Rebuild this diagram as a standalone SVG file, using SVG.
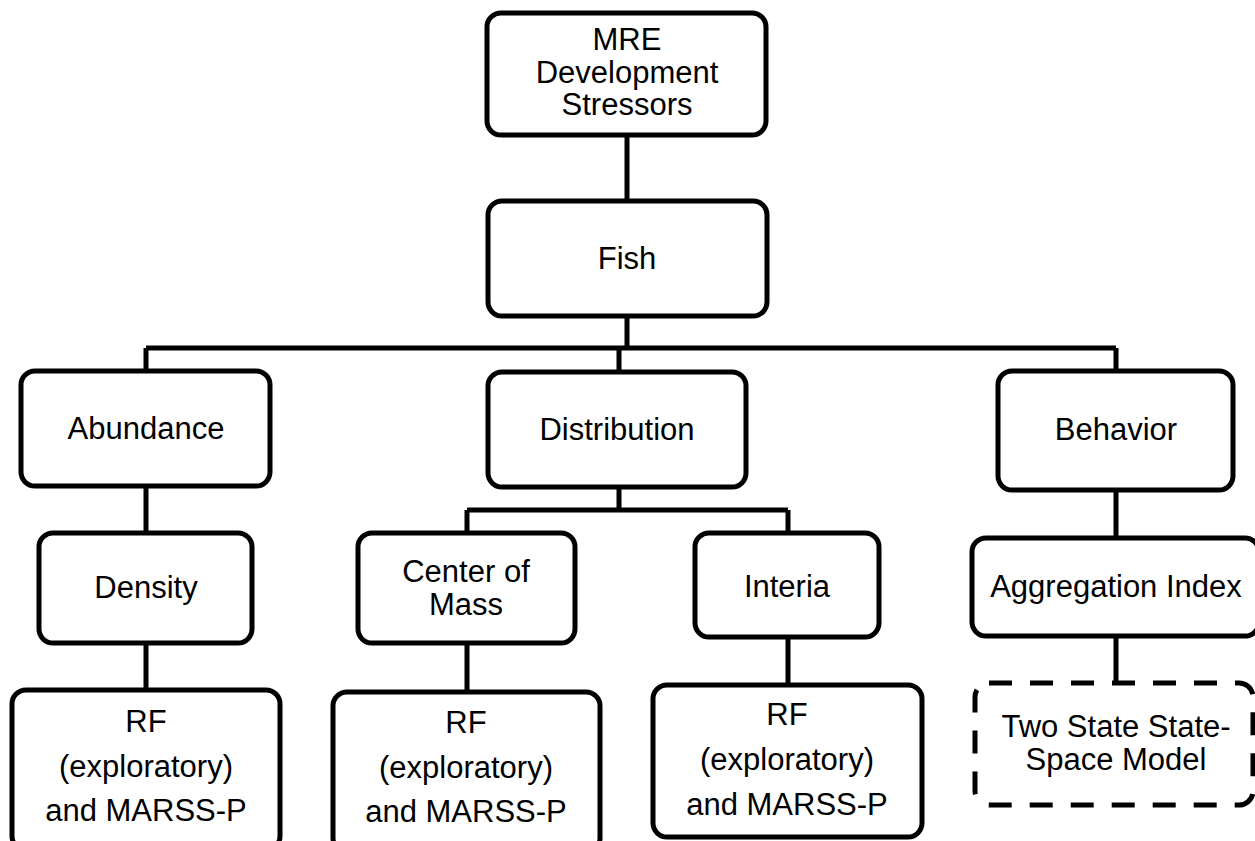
<svg xmlns="http://www.w3.org/2000/svg" width="1255" height="841" viewBox="0 0 1255 841">
<style>
.n{fill:#fff;stroke:#000;stroke-width:5}
.d{fill:#fff;stroke:#000;stroke-width:5;stroke-dasharray:23 18}
.c{fill:none;stroke:#000;stroke-width:5}
text{font-family:"Liberation Sans",Arial,sans-serif;font-size:31px;fill:#000;text-anchor:middle}
</style>
<rect width="1255" height="841" fill="#fff"/>
<g id="connectors">
<path class="c" d="M627 135V201M627 316V348M146 348H1116M146 348V371M619 348V372M1116 348V371"/>
<path class="c" d="M146 486V533M146 643V690"/>
<path class="c" d="M619 487V510M467 510H788M467 510V533M788 510V533M467 643V692M788 637V685"/>
<path class="c" d="M1116 490V538M1116 636V683"/>
</g>
<g id="mre"><rect class="n" x="487" y="13" width="279" height="122" rx="14"/><text x="627" y="50">MRE</text><text x="627" y="83">Development</text><text x="627" y="115">Stressors</text></g>
<g id="fish"><rect class="n" x="488" y="201" width="279" height="115" rx="14"/><text x="627" y="269">Fish</text></g>
<g id="abundance"><rect class="n" x="21" y="371" width="249" height="115" rx="14"/><text x="146" y="439">Abundance</text></g>
<g id="distribution"><rect class="n" x="488" y="372" width="258" height="115" rx="14"/><text x="617" y="440">Distribution</text></g>
<g id="behavior"><rect class="n" x="998" y="371" width="235" height="119" rx="14"/><text x="1116" y="440">Behavior</text></g>
<g id="density"><rect class="n" x="39" y="533" width="213" height="110" rx="14"/><text x="146" y="598">Density</text></g>
<g id="center-of-mass"><rect class="n" x="358" y="533" width="217" height="110" rx="14"/><text x="466" y="582">Center of</text><text x="466" y="615">Mass</text></g>
<g id="interia"><rect class="n" x="695" y="533" width="184" height="104" rx="14"/><text x="787" y="597">Interia</text></g>
<g id="aggregation"><rect class="n" x="972" y="538" width="287" height="98" rx="14"/><text x="1116" y="597">Aggregation Index</text></g>
<g id="rf1"><rect class="n" x="12" y="690" width="268" height="160" rx="14"/><text x="146" y="732">RF</text><text x="146" y="777">(exploratory)</text><text x="146" y="821">and MARSS-P</text></g>
<g id="rf2"><rect class="n" x="333" y="692" width="267" height="160" rx="14"/><text x="466" y="733">RF</text><text x="466" y="778">(exploratory)</text><text x="466" y="822">and MARSS-P</text></g>
<g id="rf3"><rect class="n" x="653" y="685" width="269" height="152" rx="14"/><text x="787" y="725">RF</text><text x="787" y="770">(exploratory)</text><text x="787" y="815">and MARSS-P</text></g>
<g id="two-state"><rect class="d" x="975" y="683" width="278" height="122" rx="14"/><text x="1116" y="737">Two State State-</text><text x="1116" y="770">Space Model</text></g>
</svg>
